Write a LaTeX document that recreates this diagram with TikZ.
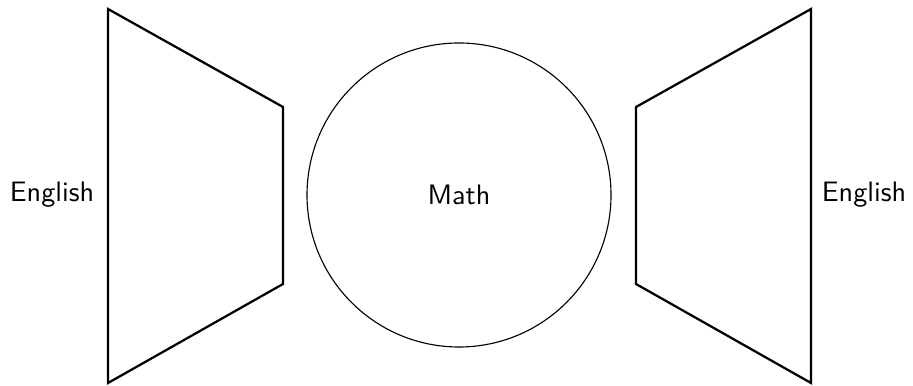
\documentclass[tikz,border=0pt]{standalone}
\usepackage{tikz}
\usetikzlibrary{positioning}

\begin{document}
\begin{tikzpicture}[
  x=0.0125cm, y=-0.0125cm,
  funnel/.style={draw, line width=0.8pt, line join=miter},
  core/.style={draw, circle, line width=0.4pt, minimum size=304*0.0125cm, inner sep=0pt},
  lab/.style={font=\sffamily},
  font=\sffamily
]
\useasboundingbox (0,0) rectangle (913,386);
% encoder / decoder sides
\draw[funnel] (108,9) -- (283,107) -- (283,284) -- (108,383) -- cycle;
\draw[funnel] (811,9) -- (636,107) -- (636,284) -- (811,383) -- cycle;
\node[core] (math) at (459,195) {Math};
\node[lab] (inEng) at (52,195) {English};
\node[lab] (outEng) at (864,195) {English};
\end{tikzpicture}
\end{document}
